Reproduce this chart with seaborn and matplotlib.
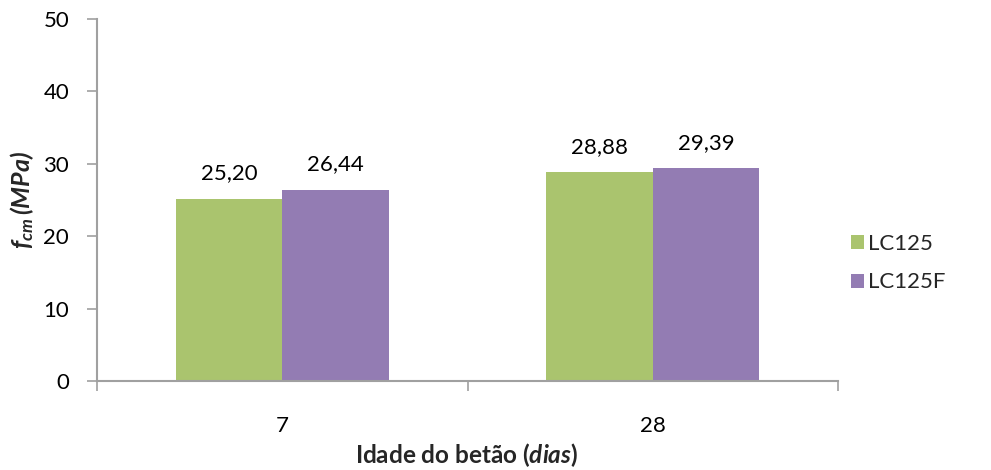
import matplotlib
matplotlib.use("Agg")
import matplotlib.pyplot as plt
import seaborn as sns
import pandas as pd

# Compressive strength by concrete age
ages = ["7", "28"]
lc125 = [25.20, 28.88]
lc125f = [26.44, 29.39]
series_names = ["LC125", "LC125F"]
colors = ["#AAC46E", "#937CB3"]

df = pd.DataFrame({
    "idade": ages * 2,
    "fcm": lc125 + lc125f,
    "serie": [series_names[0]] * len(ages) + [series_names[1]] * len(ages),
})

sns.set_theme(style="white")
plt.rcParams["font.family"] = ["Lato", "DejaVu Sans"]
plt.rcParams["mathtext.fontset"] = "custom"
plt.rcParams["mathtext.bfit"] = "Lato:bold:italic"
plt.rcParams["mathtext.it"] = "Lato:italic"
plt.rcParams["mathtext.rm"] = "Lato"

fig = plt.figure(figsize=(9.91, 4.70), dpi=100)
ax = fig.add_axes([97 / 991, 1 - 381 / 470, (838 - 97) / 991, (381 - 19) / 470])

sns.barplot(data=df, x="idade", y="fcm", hue="serie", order=ages,
            hue_order=series_names, palette=colors, width=0.575,
            saturation=1, linewidth=0, ax=ax, legend=True)

for container in ax.containers:
    labels = [f"{v:.2f}".replace(".", ",") for v in container.datavalues]
    ax.bar_label(container, labels=labels, padding=11, fontsize=16, color="#000000")

ax.set_ylim(0, 50)
ax.set_xlim(-0.5, 1.5)
ax.set_yticks(range(0, 51, 10))
ax.tick_params(axis="y", which="major", length=7, width=1.2, color="#A0A0A0",
               direction="out", left=True, labelsize=16, pad=13, labelcolor="#000000")
ax.set_xticks([0, 1])
ax.set_xticks([-0.5, 0.5, 1.5], minor=True)
ax.tick_params(axis="x", which="major", length=0, labelsize=16, pad=25, labelcolor="#000000")
ax.tick_params(axis="x", which="minor", length=7, width=1.2, color="#A0A0A0",
               direction="out", bottom=True)

for side in ["top", "right"]:
    ax.spines[side].set_visible(False)
for side in ["left", "bottom"]:
    ax.spines[side].set_color("#A0A0A0")
    ax.spines[side].set_linewidth(1.5)

ax.set_xlabel("")
ax.set_ylabel("")
fig.text(22 / 991, 1 - 200 / 470, r"$\mathbfit{f}_{\mathbfit{cm}}\,\mathbfit{(MPa)}$",
         rotation=90, ha="center", va="center", fontsize=18)
fig.text(467 / 991, 1 - 455 / 470, r"Idade do betão ($\mathbfit{dias}$)",
         ha="center", va="center", fontsize=17.5, fontweight="bold")

handles, labels = ax.get_legend_handles_labels()
ax.legend(handles, labels, loc="center left", bbox_to_anchor=(851 / 991, 1 - 263 / 470),
          bbox_transform=fig.transFigure, frameon=False, fontsize=16,
          handlelength=0.6, handleheight=0.6, handletextpad=0.15, labelspacing=0.85,
          borderpad=0, borderaxespad=0)

fig.savefig("out.png", dpi=100)
